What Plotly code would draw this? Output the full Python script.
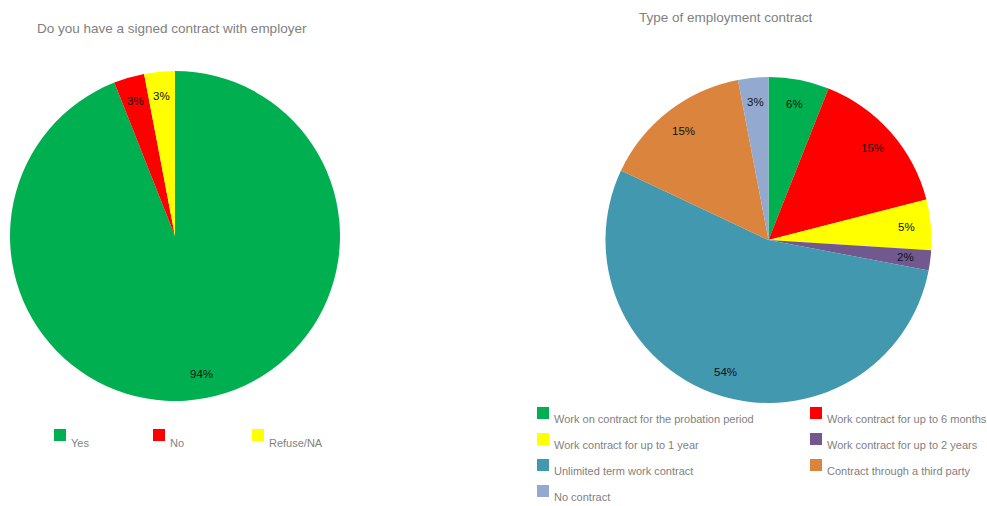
import math
import plotly.graph_objects as go

W, H = 987, 506

# Left chart: signed contract with employer
contract_labels = ["Yes", "No", "Refuse/NA"]
contract_values = [94, 3, 3]
contract_colors = ["#00B050", "#FF0000", "#FFFF00"]

# Right chart: type of employment contract
type_labels = [
    "Work on contract for the probation period",
    "Work contract for up to 6 months",
    "Work contract for up to 1 year",
    "Work contract for up to 2 years",
    "Unlimited term work contract",
    "Contract through a third party",
    "No contract",
]
type_values = [6, 15, 5, 2, 54, 15, 3]
type_colors = ["#00B050", "#FF0000", "#FFFF00", "#71588F", "#4198AF", "#DB843D", "#93A9CF"]

FONT = "Liberation Sans, Arial, Roboto, sans-serif"
GREY = "#7F7F7F"


def px_x(x):
    return x / W


def px_y(y):
    return 1 - y / H


def domain(cx, cy, r):
    return dict(x=[px_x(cx - r), px_x(cx + r)], y=[px_y(cy + r), px_y(cy - r)])


def slice_labels(values, cx, cy, r, frac=0.85):
    """Percentage labels placed along each slice's mid angle (clockwise from 12 o'clock)."""
    total = float(sum(values))
    out = []
    acc = 0.0
    for v in values:
        mid = (acc + v / 2.0) / total
        acc += v
        th = 2 * math.pi * mid
        x = cx + frac * r * math.sin(th)
        y = cy - frac * r * math.cos(th)
        out.append(dict(
            x=px_x(x), y=px_y(y), xref="paper", yref="paper",
            text=f"{round(100 * v / total)}%", showarrow=False,
            xanchor="center", yanchor="middle",
            font=dict(family=FONT, size=11.5, color="#111111"),
        ))
    return out


def legend_items(labels, colors, x0, y0, dx, dy, ncol, text_dy=14):
    """Square swatches with the label set slightly below, laid out in a grid."""
    shapes, notes = [], []
    for i, (lab, col) in enumerate(zip(labels, colors)):
        c, rw = i % ncol, i // ncol
        x = x0 + c * dx
        y = y0 + rw * dy
        shapes.append(dict(
            type="rect", xref="paper", yref="paper",
            x0=px_x(x), x1=px_x(x + 12), y0=px_y(y + 12), y1=px_y(y),
            fillcolor=col, line=dict(width=0),
        ))
        notes.append(dict(
            x=px_x(x + 15), y=px_y(y + text_dy), xref="paper", yref="paper",
            text=lab, showarrow=False, xanchor="left", yanchor="middle",
            font=dict(family=FONT, size=11, color=GREY),
        ))
    return shapes, notes


L_CX, L_CY, L_R = 175, 236, 165
R_CX, R_CY, R_R = 768.5, 240, 163

fig = go.Figure()
fig.add_trace(go.Pie(
    labels=contract_labels, values=contract_values,
    marker=dict(colors=contract_colors, line=dict(width=0)),
    sort=False, direction="clockwise", rotation=0,
    textinfo="none", hoverinfo="label+percent",
    domain=domain(L_CX, L_CY, L_R), showlegend=False,
))
fig.add_trace(go.Pie(
    labels=type_labels, values=type_values,
    marker=dict(colors=type_colors, line=dict(width=0)),
    sort=False, direction="clockwise", rotation=0,
    textinfo="none", hoverinfo="label+percent",
    domain=domain(R_CX, R_CY, R_R), showlegend=False,
))

annotations = []
annotations += slice_labels(contract_values, L_CX, L_CY, L_R)
annotations += slice_labels(type_values, R_CX, R_CY, R_R)

annotations.append(dict(
    x=px_x(172), y=px_y(28), xref="paper", yref="paper",
    text="Do you have a signed contract with employer", showarrow=False,
    xanchor="center", yanchor="middle",
    font=dict(family=FONT, size=13.5, color=GREY),
))
annotations.append(dict(
    x=px_x(726), y=px_y(17), xref="paper", yref="paper",
    text="Type of employment contract", showarrow=False,
    xanchor="center", yanchor="middle",
    font=dict(family=FONT, size=13.5, color=GREY),
))

s1, n1 = legend_items(contract_labels, contract_colors, 54, 429, 99, 26, 3)
s2, n2 = legend_items(type_labels, type_colors, 537, 407, 273, 26, 2, text_dy=12)
annotations += n1 + n2

fig.update_layout(
    width=W, height=H,
    margin=dict(l=0, r=0, t=0, b=0),
    paper_bgcolor="white", plot_bgcolor="white",
    showlegend=False,
    annotations=annotations,
    shapes=s1 + s2,
)

fig.write_html("out.html")
